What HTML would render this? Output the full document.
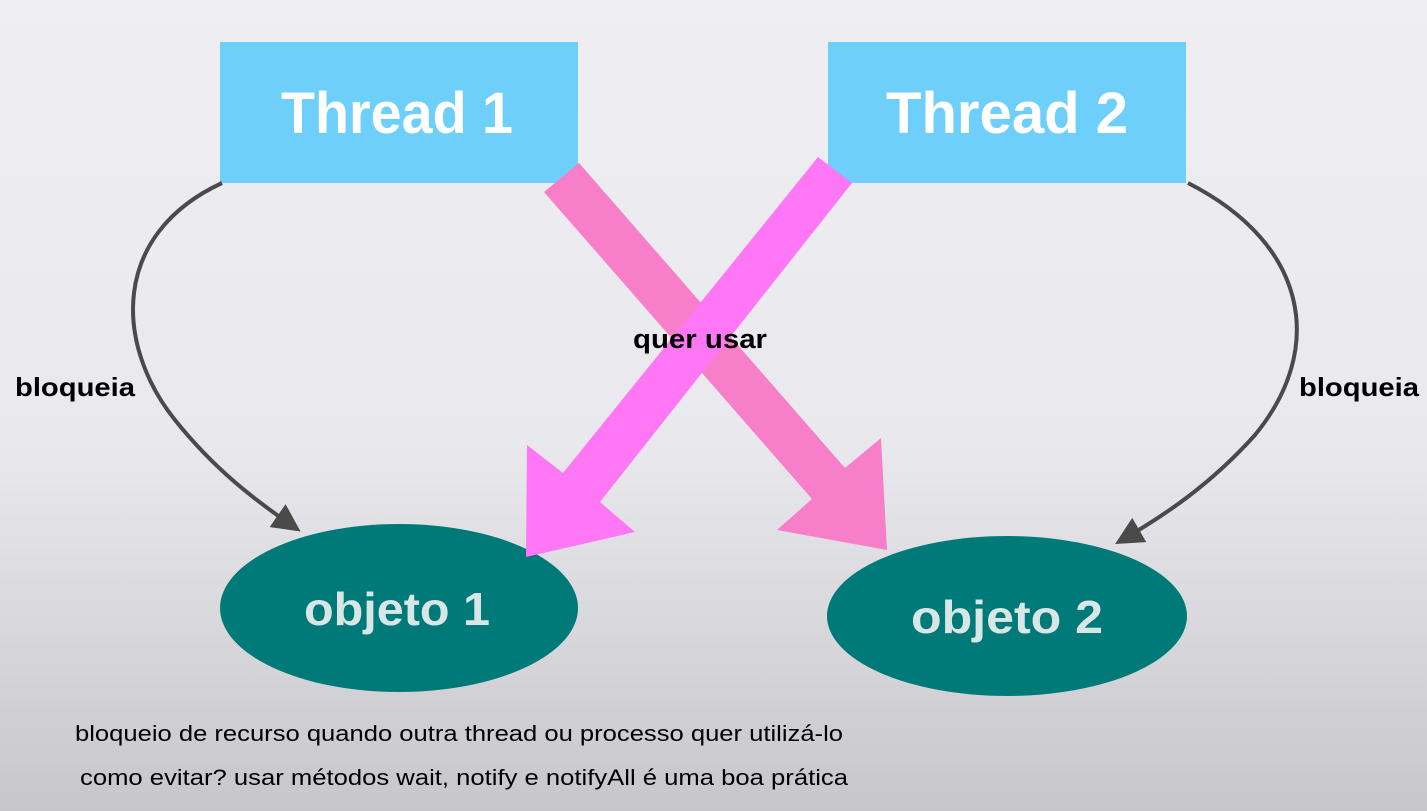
<!DOCTYPE html>
<html><head><meta charset="utf-8"><style>
html,body{margin:0;padding:0}
body{width:1427px;height:811px;overflow:hidden;background:linear-gradient(#efeff3 0%,#e9e9ed 55%,#c7c7cb 100%);font-family:"Liberation Sans",sans-serif}
</style></head><body>
<svg width="1427" height="811" viewBox="0 0 1427 811" xmlns="http://www.w3.org/2000/svg" style="position:absolute;left:0;top:0">
<defs>
<marker id="ah" markerWidth="7" markerHeight="7" refX="5" refY="3.5" orient="auto" markerUnits="strokeWidth">
<path d="M0,0 L7,3.5 L0,7 Z" fill="#4a4a4a"/></marker>
</defs>
<rect x="220" y="42" width="358" height="141" fill="#6fcffb"/>
<rect x="828" y="42" width="358" height="141" fill="#6fcffb"/>
<text x="397" y="133" text-anchor="middle" font-size="58" font-weight="bold" fill="#fff" textLength="232" lengthAdjust="spacingAndGlyphs">Thread 1</text>
<text x="1007" y="133" text-anchor="middle" font-size="58" font-weight="bold" fill="#fff" textLength="242" lengthAdjust="spacingAndGlyphs">Thread 2</text>
<ellipse cx="399" cy="608" rx="179" ry="84" fill="#007a78"/>
<ellipse cx="1007" cy="616" rx="180" ry="80" fill="#007a78"/>
<text x="397" y="625" text-anchor="middle" font-size="46" font-weight="bold" fill="#d9e6e6" textLength="186" lengthAdjust="spacingAndGlyphs">objeto 1</text>
<text x="1007" y="633" text-anchor="middle" font-size="46" font-weight="bold" fill="#d9e6e6" textLength="192" lengthAdjust="spacingAndGlyphs">objeto 2</text>
<path d="M222,183 C110,235 115,345 175,420 C215,470 255,500 294,527" fill="none" stroke="#4a4a4a" stroke-width="4" marker-end="url(#ah)"/>
<path d="M1188,183 C1310,245 1325,350 1255,435 C1210,485 1165,515 1122,540" fill="none" stroke="#4a4a4a" stroke-width="4" marker-end="url(#ah)"/>
<polygon points="544,192 579,163 845,468 881,438 887,550 777,530 812,499" fill="#f77ec9"/>
<polygon points="818,157 852,183 600,502 635,532 526,557 527,445 563,473" fill="#ff77f5"/>
<text x="700" y="348" text-anchor="middle" font-size="27" font-weight="bold" fill="#000" textLength="134" lengthAdjust="spacingAndGlyphs">quer usar</text>
<text x="75" y="396" text-anchor="middle" font-size="26" font-weight="bold" fill="#000" textLength="120" lengthAdjust="spacingAndGlyphs">bloqueia</text>
<text x="1359" y="396" text-anchor="middle" font-size="26" font-weight="bold" fill="#000" textLength="120" lengthAdjust="spacingAndGlyphs">bloqueia</text>
<text x="75" y="741" font-size="22" fill="#000" textLength="768" lengthAdjust="spacingAndGlyphs">bloqueio de recurso quando outra thread ou processo quer utilizá-lo</text>
<text x="80" y="785" font-size="22" fill="#000" textLength="768" lengthAdjust="spacingAndGlyphs">como evitar? usar métodos wait, notify e notifyAll é uma boa prática</text>
</svg>
</body></html>
